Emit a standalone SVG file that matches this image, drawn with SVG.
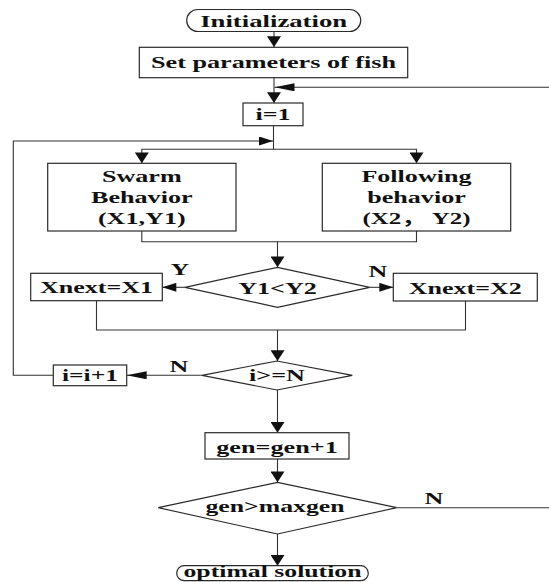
<svg xmlns="http://www.w3.org/2000/svg" width="549" height="582" viewBox="0 0 549 582">
<style>
  .box { fill: #fff; stroke: #2a2a2a; stroke-width: 1.2; }
  .ln { fill: none; stroke: #333; stroke-width: 1.1; }
  .t { font-family: "Liberation Serif", "Times New Roman", "Noto Sans CJK SC", serif; font-weight: bold; font-size: 17.5px; fill: #111; text-anchor: middle; }
</style>
<defs>
  <marker id="aV" markerUnits="userSpaceOnUse" markerWidth="12" markerHeight="14" viewBox="0 0 10 13" refX="10" refY="6.5" orient="auto">
    <path d="M0,0 L10,6.5 L0,13 Z" fill="#111"/>
  </marker>
  <marker id="aH" markerUnits="userSpaceOnUse" markerWidth="15" markerHeight="9" viewBox="0 0 14 9" refX="14" refY="4.5" orient="auto">
    <path d="M0,0 L14,4.5 L0,9 Z" fill="#111"/>
  </marker>
  <marker id="aL" markerUnits="userSpaceOnUse" markerWidth="21" markerHeight="8" viewBox="0 0 20 8" refX="20" refY="4" orient="auto">
    <path d="M0,0 L20,4 L0,8 Z" fill="#111"/>
  </marker>
</defs>

<g id="connectors">
  <path class="ln" d="M274,31.5 V47" marker-end="url(#aV)"/>
  <path class="ln" d="M274,78 V103" marker-end="url(#aV)"/>
  <path class="ln" d="M396.7,507.7 H556 V87.3 H274.5" marker-end="url(#aL)"/>
  <path class="ln" d="M273.5,125.7 V149.3 H141.8 V163.3" marker-end="url(#aV)"/>
  <path class="ln" d="M273.5,149.3 H416.5 V163.3" marker-end="url(#aV)"/>
  <path class="ln" d="M53.3,375.3 H13.3 V141 H273" marker-end="url(#aH)"/>
  <path class="ln" d="M141.8,231 V241.7 H416.5 V231"/>
  <path class="ln" d="M277.5,241.7 V267.3" marker-end="url(#aV)"/>
  <path class="ln" d="M185,287.3 H162.3" marker-end="url(#aH)"/>
  <path class="ln" d="M369.7,287.3 H393.3" marker-end="url(#aH)"/>
  <path class="ln" d="M96.5,300.7 V330 H465.5 V301"/>
  <path class="ln" d="M277.5,330 V361" marker-end="url(#aV)"/>
  <path class="ln" d="M202,375.3 H126.7" marker-end="url(#aL)"/>
  <path class="ln" d="M277.5,390 V432.7" marker-end="url(#aV)"/>
  <path class="ln" d="M277.5,459 V482.3" marker-end="url(#aV)"/>
  <path class="ln" d="M277.5,534 V565.7" marker-end="url(#aV)"/>
  <text class="t" x="180" y="275" textLength="18.8" lengthAdjust="spacingAndGlyphs">Y</text>
  <text class="t" x="378" y="277" textLength="18.8" lengthAdjust="spacingAndGlyphs">N</text>
  <text class="t" x="179" y="371.7" textLength="18.8" lengthAdjust="spacingAndGlyphs">N</text>
  <text class="t" x="434" y="504" textLength="18.8" lengthAdjust="spacingAndGlyphs">N</text>
</g>

<g id="init">
  <rect class="box" x="186.7" y="9.5" width="174" height="22" rx="11" ry="11"/>
  <text class="t" x="273.7" y="26.5" textLength="147" lengthAdjust="spacingAndGlyphs">Initialization</text>
</g>
<g id="setparams">
  <rect class="box" x="139.3" y="47.3" width="268.4" height="30.4"/>
  <text class="t" x="273.5" y="68.4" textLength="245" lengthAdjust="spacingAndGlyphs">Set parameters of fish</text>
</g>
<g id="i1">
  <rect class="box" x="243" y="103" width="60" height="22.7"/>
  <text class="t" x="273" y="119.5" textLength="35.2" lengthAdjust="spacingAndGlyphs">i=1</text>
</g>
<g id="swarm">
  <rect class="box" x="47.7" y="163.3" width="188.3" height="67.7"/>
  <text class="t" x="141.8" y="181.7" textLength="79.7" lengthAdjust="spacingAndGlyphs">Swarm</text>
  <text class="t" x="141.8" y="202.7" textLength="101.5" lengthAdjust="spacingAndGlyphs">Behavior</text>
  <text class="t" x="141.8" y="224.3" textLength="87.7" lengthAdjust="spacingAndGlyphs">(X1,Y1)</text>
</g>
<g id="following">
  <rect class="box" x="322.3" y="163.3" width="188.4" height="67.7"/>
  <text class="t" x="416.5" y="181.7" textLength="110.2" lengthAdjust="spacingAndGlyphs">Following</text>
  <text class="t" x="416.5" y="202.7" textLength="98.6" lengthAdjust="spacingAndGlyphs">behavior</text>
  <text class="t" x="416.5" y="224.3" textLength="108" lengthAdjust="spacingAndGlyphs">(X2， Y2)</text>
</g>
<g id="cmp">
  <polygon class="box" points="185,287.3 277.5,267.3 369.7,287.3 277.5,307.3"/>
  <text class="t" x="277.5" y="293.5" textLength="78.7" lengthAdjust="spacingAndGlyphs">Y1&lt;Y2</text>
</g>
<g id="xnext1">
  <rect class="box" x="30.7" y="273.3" width="131.6" height="27.4"/>
  <text class="t" x="96.5" y="293.3" textLength="113" lengthAdjust="spacingAndGlyphs">Xnext=X1</text>
</g>
<g id="xnext2">
  <rect class="box" x="393.3" y="273.3" width="144" height="27.7"/>
  <text class="t" x="465.3" y="293.5" textLength="113" lengthAdjust="spacingAndGlyphs">Xnext=X2</text>
</g>
<g id="iN">
  <polygon class="box" points="202,375.3 277,361 352.3,375.3 277,390"/>
  <text class="t" x="277" y="381" textLength="55.9" lengthAdjust="spacingAndGlyphs">i&gt;=N</text>
</g>
<g id="inc">
  <rect class="box" x="53.3" y="365" width="73.4" height="20.7"/>
  <text class="t" x="90" y="381" textLength="56" lengthAdjust="spacingAndGlyphs">i=i+1</text>
</g>
<g id="gen">
  <rect class="box" x="205" y="432.7" width="144" height="26.3"/>
  <text class="t" x="277" y="452.5" textLength="121.5" lengthAdjust="spacingAndGlyphs">gen=gen+1</text>
</g>
<g id="maxgen">
  <polygon class="box" points="158.3,507.7 277.5,482.3 396.7,507.7 277.5,534"/>
  <text class="t" x="275" y="512" textLength="139" lengthAdjust="spacingAndGlyphs">gen&gt;maxgen</text>
</g>
<g id="optimal">
  <rect class="box" x="176.7" y="565.7" width="191.6" height="15" rx="7.5" ry="7.5"/>
  <text class="t" x="272.5" y="577" textLength="178" lengthAdjust="spacingAndGlyphs">optimal solution</text>
</g>
</svg>
